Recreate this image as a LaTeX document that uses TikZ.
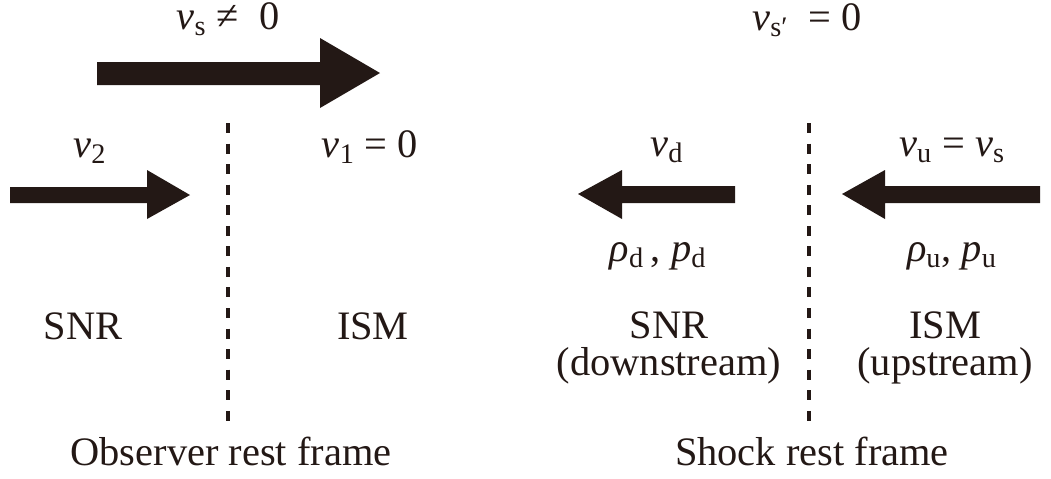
\documentclass[tikz,border=0pt]{standalone}
\usepackage{fontspec}
\setmainfont{Liberation Serif}
\usetikzlibrary{positioning}
\definecolor{shockink}{HTML}{231815}

\begin{document}
\begin{tikzpicture}[x=0.02cm, y=-0.02cm,
  lbl/.style={anchor=base, inner sep=0pt, text=shockink, font=\fontsize{23}{21.5}\selectfont},
  two/.style={lbl, anchor=north, align=center},
  fat/.style={fill=shockink, draw=none},
  front/.style={draw=shockink, line width=1.8pt, dash pattern=on 5.7pt off 6pt},
]
  \useasboundingbox (0,0) rectangle (1051,478);

  % observer rest frame
  \node[lbl] (vs) at (228,29) {\textit{v}\textsubscript{s} ≠\ \ 0};
  \fill[fat] (97,62) -- (320,62) -- (320,38) -- (380,73) -- (320,108) -- (320,85) -- (97,85) -- cycle;
  \node[lbl] (v2) at (90,157) {\textit{v}\textsubscript{2}};
  \node[lbl] (v1) at (370,157) {\textit{v}\textsubscript{1} = 0};
  \fill[fat] (10,187) -- (147,187) -- (147,170) -- (190,195) -- (147,219) -- (147,203) -- (10,203) -- cycle;
  \coordinate (otop) at (228,123);
  \coordinate (obot) at (228,430);
  \draw[front] (otop) -- (obot);
  \node[lbl] (snrl) at (83,339) {SNR};
  \node[lbl] (isml) at (373,339) {ISM};
  \node[lbl] (obs) at (231,465) {Observer rest frame};

  % shock rest frame
  \node[lbl] (vsp) at (807,30) {\textit{v}\textsubscript{s′}\ \ = 0};
  \node[lbl] (vd) at (667,156) {\textit{v}\textsubscript{d}};
  \node[lbl] (vu) at (952,156) {\textit{v}\textsubscript{u} = \textit{v}\textsubscript{s}};
  \fill[fat] (735,186) -- (622,186) -- (622,170) -- (578,194) -- (622,219) -- (622,203) -- (735,203) -- cycle;
  \fill[fat] (1040,186) -- (885,186) -- (885,170) -- (842,194) -- (885,219) -- (885,203) -- (1040,203) -- cycle;
  \node[lbl] (rhod) at (658,261) {\textit{ρ}\textsubscript{d}\,, \textit{p}\textsubscript{d}};
  \node[lbl] (rhou) at (952,261) {\textit{ρ}\textsubscript{u}, \textit{p}\textsubscript{u}};
  \coordinate (stop) at (809,123);
  \coordinate (sbot) at (809,430);
  \draw[front] (stop) -- (sbot);
  \node[two] (snrr) at (669,311) {SNR\\(downstream)};
  \node[two] (ismr) at (945,311) {ISM\\(upstream)};
  \node[lbl] (shk) at (812,465) {Shock rest frame};
\end{tikzpicture}
\end{document}
